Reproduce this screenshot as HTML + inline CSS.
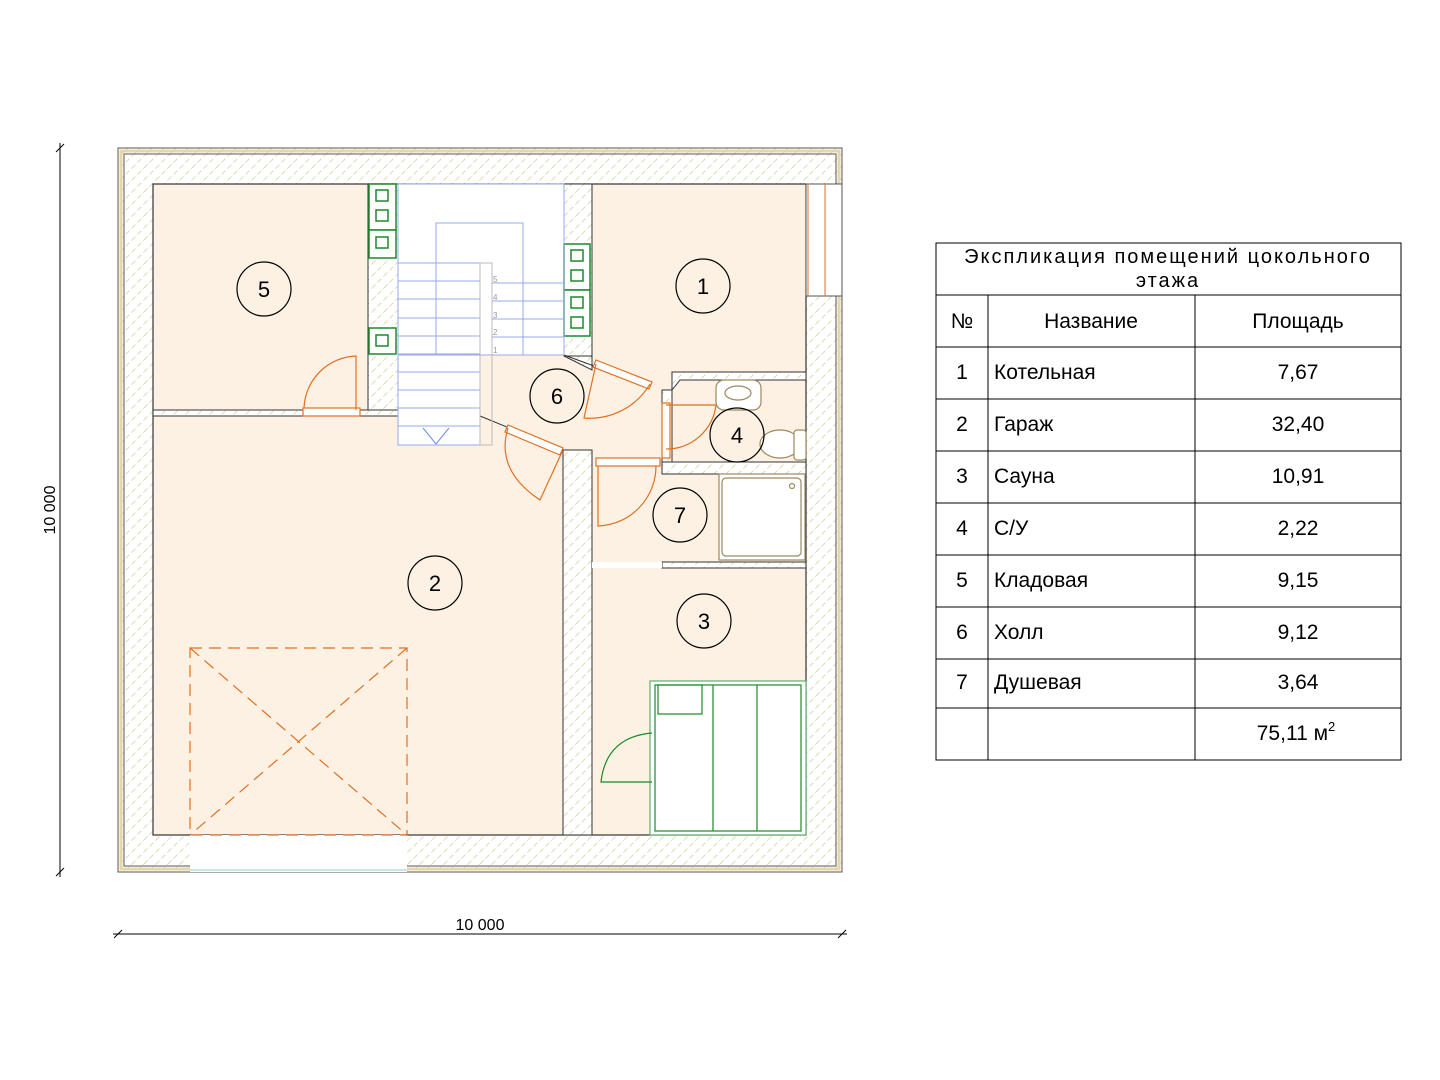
<!DOCTYPE html>
<html><head><meta charset="utf-8"><style>
html,body{margin:0;padding:0;background:#fff;}
svg{display:block;font-family:"Liberation Sans",sans-serif;}
</style></head><body>
<svg width="1440" height="1080" viewBox="0 0 1440 1080" xmlns="http://www.w3.org/2000/svg">
<defs>
<pattern id="h" width="12" height="12" patternUnits="userSpaceOnUse">
<rect width="12" height="12" fill="#fff"/>
<path d="M0 12 L12 0" stroke="#d8d3a8" stroke-width="0.8" stroke-dasharray="5 3"/>
</pattern>
</defs>
<rect x="118" y="148" width="724" height="724" fill="url(#h)" stroke="#555" stroke-width="1"/>
<rect x="121" y="151" width="718" height="718" fill="none" stroke="#e6d6a8" stroke-width="3"/>
<rect x="124" y="154" width="712" height="712" fill="none" stroke="#555" stroke-width="1"/>
<rect x="153" y="184" width="653" height="651" fill="#fdf1e4" stroke="#333" stroke-width="1.2"/>
<rect x="190" y="835" width="217" height="37" fill="#fff"/>
<line x1="190" y1="870" x2="407" y2="870" stroke="#9cc" stroke-width="1"/>
<rect x="806" y="184" width="36" height="112" fill="#fff" stroke="#555"/>
<line x1="825" y1="184" x2="825" y2="296" stroke="#e07020"/>
<line x1="808" y1="184" x2="808" y2="296" stroke="#e07020"/>
<rect x="398" y="184" width="166" height="171" fill="#fff"/>
<rect x="398" y="355" width="82" height="90" fill="#fff"/>
<rect x="153" y="410" width="150" height="6" fill="url(#h)" stroke="#333"/>
<rect x="360" y="410" width="38" height="6" fill="url(#h)" stroke="#333"/>
<rect x="368" y="184" width="30" height="226" fill="url(#h)" stroke="#333"/>
<rect x="564" y="184" width="28" height="172" fill="url(#h)" stroke="#333"/>
<polygon points="564,356 592,356 592,370 564,356" fill="url(#h)" stroke="#333"/>
<rect x="563" y="450" width="29" height="385" fill="url(#h)" stroke="#333"/>
<polygon points="672,372 806,372 806,380 680,380 672,390" fill="url(#h)" stroke="#333"/>
<rect x="662" y="390" width="10" height="80" fill="url(#h)" stroke="#333"/>
<rect x="662" y="462" width="144" height="12" fill="url(#h)" stroke="#333"/>
<rect x="662" y="562" width="144" height="6" fill="url(#h)" stroke="#333"/>
<rect x="592" y="562" width="70" height="6" fill="#fff"/>
<line x1="480" y1="416" x2="563" y2="450" stroke="#333" stroke-width="1"/>
<line x1="564" y1="355" x2="594" y2="366" stroke="#333"/>
<g fill="#fff" stroke="#1a8a2a" stroke-width="1.5">
<rect x="369" y="184" width="27" height="46"/><rect x="369" y="230" width="27" height="28"/>
<rect x="369" y="328" width="27" height="26"/>
<rect x="564" y="244" width="26" height="46"/><rect x="564" y="290" width="26" height="46"/>
<rect x="376" y="190" width="12" height="11"/><rect x="376" y="210" width="12" height="11"/><rect x="376" y="237" width="12" height="11"/><rect x="376" y="335" width="12" height="11"/>
<rect x="571" y="250" width="12" height="11"/><rect x="571" y="270" width="12" height="11"/><rect x="571" y="297" width="12" height="11"/><rect x="571" y="317" width="12" height="11"/>
</g>
<g stroke="#99a8e8" stroke-width="1" fill="none">
<rect x="398" y="184" width="166" height="171"/>
<rect x="436" y="223" width="87" height="132"/>
<rect x="398" y="263" width="82" height="182"/>
<rect x="480" y="263" width="12" height="182" stroke="#bbb"/>
<path d="M398 281h82M398 299h82M398 318h82M398 336h82M398 354h82M398 372h82M398 390h82M398 408h82M398 426h82"/>
<path d="M492 283h72M492 301h72M492 319h72M492 337h72"/>
<path d="M423 428 L436 444 L449 428" stroke="#6a8ee8"/>
</g>
<g font-size="8" fill="#999">
<text x="493" y="282">5</text><text x="493" y="300">4</text><text x="493" y="318">3</text><text x="493" y="335">2</text><text x="493" y="353">1</text>
</g>
<g stroke="#e07020" fill="none" stroke-width="1.2">
<rect x="303" y="408" width="57" height="8" fill="#fff"/>
<path d="M356 410 L356 356 A54 54 0 0 0 304 408"/>
<polygon points="596,360 652,382 649,389 593,367" fill="#fff"/>
<path d="M596 364 L584 418 A70 70 0 0 0 650 384"/>
<polygon points="508,425 563,448 560,455 505,432" fill="#fff"/>
<path d="M508 428 Q495 470 540 500 L562 452"/>
<rect x="662" y="403" width="8" height="55" fill="#fff"/>
<path d="M666 405 L716 405 A50 50 0 0 1 666 449"/>
<rect x="596" y="458" width="64" height="8" fill="#fff"/>
<path d="M598 466 L598 526 A60 60 0 0 0 656 466"/>
</g>
<g stroke="#9a8a60" fill="#fff" stroke-width="1.2">
<rect x="716" y="380" width="45" height="30" rx="8"/>
<ellipse cx="738" cy="393" rx="13" ry="7"/>
<ellipse cx="780" cy="444" rx="20" ry="14"/>
<rect x="794" y="430" width="12" height="30" rx="3"/>
<rect x="719" y="474" width="86" height="86"/>
<rect x="722" y="478" width="79" height="78" rx="4"/>
<circle cx="792" cy="486" r="2.5"/>
</g>
<g stroke="#1a8a2a" fill="none" stroke-width="1.2">
<rect x="650" y="681" width="156" height="154" fill="#fff" stroke="#5ab06a"/>
<rect x="655" y="685" width="146" height="146" fill="#fff"/>
<rect x="658" y="685" width="44" height="29"/>
<line x1="713" y1="685" x2="713" y2="831"/><line x1="757" y1="685" x2="757" y2="831"/>
<path d="M652 733 Q606 737 601 782 L652 782"/>
</g>
<g stroke="#e07020" fill="none" stroke-width="1.2" stroke-dasharray="12 7">
<rect x="190" y="648" width="217" height="187"/>
<line x1="190" y1="648" x2="407" y2="835"/><line x1="407" y1="648" x2="190" y2="835"/>
</g>
<g fill="none" stroke="#000" stroke-width="1.2">
<circle cx="264" cy="289" r="27"/><circle cx="703" cy="286" r="27"/><circle cx="557" cy="396" r="27"/>
<circle cx="737" cy="435" r="27"/><circle cx="680" cy="515" r="27"/><circle cx="435" cy="583" r="27"/><circle cx="704" cy="621" r="27"/>
</g>
<g font-size="22" text-anchor="middle" fill="#000">
<text x="264" y="297">5</text><text x="703" y="294">1</text><text x="557" y="404">6</text>
<text x="737" y="443">4</text><text x="680" y="523">7</text><text x="435" y="591">2</text><text x="704" y="629">3</text>
</g>
<g stroke="#000" stroke-width="1">
<line x1="60" y1="143" x2="60" y2="877"/><line x1="56" y1="152" x2="64" y2="144"/><line x1="56" y1="876" x2="64" y2="868"/>
<line x1="113" y1="934" x2="847" y2="934"/><line x1="114" y1="938" x2="122" y2="930"/><line x1="838" y1="938" x2="846" y2="930"/>
</g>
<text x="480" y="930" font-size="16" text-anchor="middle">10 000</text>
<text transform="translate(55,510) rotate(-90)" font-size="16" text-anchor="middle">10 000</text>
<g stroke="#000" stroke-width="1" fill="none">
<rect x="936" y="243" width="465" height="517"/>
<path d="M936 295H1401M936 347H1401M936 399H1401M936 451H1401M936 503H1401M936 555H1401M936 607H1401M936 659H1401M936 708H1401"/>
<path d="M988 295V760M1195 295V760"/>
</g>
<g font-size="21" fill="#000">
<text x="1168" y="263" text-anchor="middle" font-size="20" letter-spacing="2">Экспликация помещений цокольного</text>
<text x="1168" y="287" text-anchor="middle" font-size="20" letter-spacing="2">этажа</text>
<text x="962" y="328" text-anchor="middle">№</text>
<text x="1091" y="328" text-anchor="middle">Название</text>
<text x="1298" y="328" text-anchor="middle">Площадь</text>
<g text-anchor="middle">
<text x="962" y="379">1</text><text x="962" y="431">2</text><text x="962" y="483">3</text><text x="962" y="535">4</text><text x="962" y="587">5</text><text x="962" y="639">6</text><text x="962" y="689">7</text>
<text x="1298" y="379">7,67</text><text x="1298" y="431">32,40</text><text x="1298" y="483">10,91</text><text x="1298" y="535">2,22</text><text x="1298" y="587">9,15</text><text x="1298" y="639">9,12</text><text x="1298" y="689">3,64</text>
<text x="1296" y="740">75,11 м<tspan font-size="13" dy="-9">2</tspan></text>
</g>
<text x="994" y="379">Котельная</text><text x="994" y="431">Гараж</text><text x="994" y="483">Сауна</text><text x="994" y="535">С/У</text><text x="994" y="587">Кладовая</text><text x="994" y="639">Холл</text><text x="994" y="689">Душевая</text>
</g>
</svg>
</body></html>
